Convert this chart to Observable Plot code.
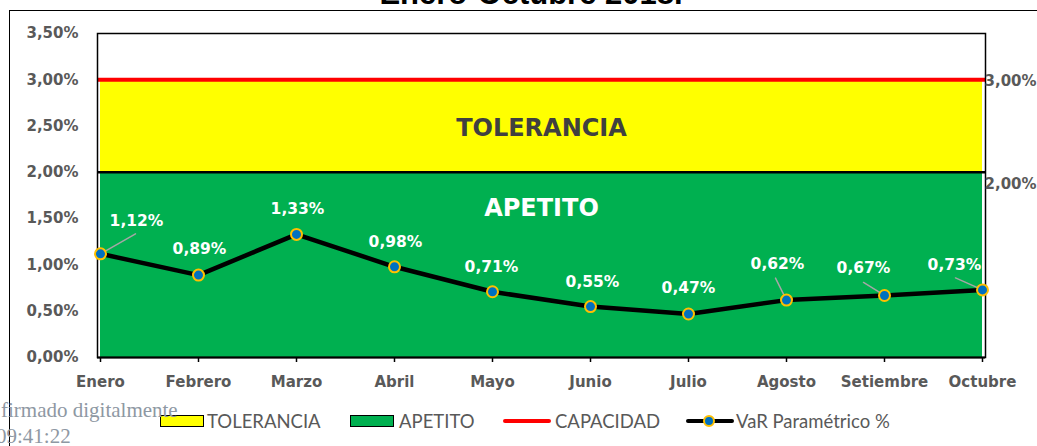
<!DOCTYPE html>
<html><head><meta charset="utf-8">
<script src="https://cdn.jsdelivr.net/npm/d3@7"></script>
<script src="https://cdn.jsdelivr.net/npm/@observablehq/plot@0.6"></script>
<style>
html,body{margin:0;padding:0;background:#fff;overflow:hidden;}
#wrap{position:relative;width:1037px;height:446px;overflow:hidden;background:#fff;}
#chart{position:absolute;left:0;top:0;}
#title{position:absolute;left:0;width:1062px;text-align:center;top:-22px;font:bold 31px "Liberation Sans",Arial,sans-serif;color:#000;white-space:nowrap;line-height:31px;height:31px;}
#border{position:absolute;left:9px;top:10px;right:-5px;bottom:-5px;border-top:1.5px solid #000;border-left:1.5px solid #000;pointer-events:none;}
.lg{position:absolute;top:410px;height:22px;line-height:22px;font:18.5px Lato,"Open Sans",sans-serif;color:#595959;white-space:nowrap;}
.sw{position:absolute;top:415px;width:42px;height:10px;border:1.5px solid #000;}
.ln{position:absolute;height:4px;border-radius:2px;}
.mk{position:absolute;width:8px;height:8px;border-radius:50%;background:#0070C0;border:2px solid #FFC000;}
#wm{position:absolute;left:1px;top:397px;font:21px "Liberation Serif","DejaVu Serif",serif;color:#8E98A3;line-height:26px;}
</style></head><body>
<div id="wrap">
<div id="chart"></div>
<div id="title"></div>
<div id="border"></div>
<div id="legend"></div>
<div id="wm">firmado digitalmente<br><span style="margin-left:-5px">09:41:22</span></div>
</div>
<script>
const titleText = "Enero-Octubre 2018.";
const months = ["Enero","Febrero","Marzo","Abril","Mayo","Junio","Julio","Agosto","Setiembre","Octubre"];
const varPct = [1.12,0.89,1.33,0.98,0.71,0.55,0.47,0.62,0.67,0.73];
const yTicks = [0,0.5,1,1.5,2,2.5,3,3.5];
const apetitoMax = 2;
const toleranciaMax = 3;
const capacidad = 3;
const rightLabels = [3, 2];
const bandLabels = ["TOLERANCIA","APETITO"];
const legendLabels = ["TOLERANCIA","APETITO","CAPACIDAD","VaR Paramétrico %"];

const C = {green:"#00B050", yellow:"#FFFF00", red:"#FF0000", blue:"#0070C0", gold:"#FFC000", grey:"#595959", leader:"#A6A6A6"};
const fmt = v => v.toFixed(2).replace(".", ",") + "%";
const data = months.map((m, i) => ({month: m, v: varPct[i]}));

// label placement (pixels) for the data labels and their leader lines
const labelNudge = [[36,-33],[1,-26],[1,-25],[1,-25],[-1,-25],[2,-25],[0,-26],[-9,-36],[-21,-27],[-28,-25]];
const leaderIdx = [0, 7, 8, 9];
const leaderVec = {0:[35,-20], 7:[-11,-22], 8:[-21,-13], 9:[-27,-12]};

document.getElementById("title").textContent = titleText;

const textStyle = {fill: "white", fontWeight: "bold", fontSize: 15.5};

const plot = Plot.plot({
  width: 1037, height: 446,
  marginLeft: 97, marginRight: 52, marginTop: 33, marginBottom: 89,
  style: {fontFamily: "'DejaVu Sans', Verdana, sans-serif", fontSize: "15px", background: "transparent", overflow: "visible"},
  x: {type: "point", domain: months, padding: 0, label: null},
  y: {domain: [0, 3.5], ticks: yTicks, label: null},
  length: {type: "identity"},
  marks: [
    Plot.areaY(data, {x: "month", y1: () => 0, y2: () => apetitoMax, fill: C.green}),
    Plot.areaY(data, {x: "month", y1: () => apetitoMax, y2: () => toleranciaMax, fill: C.yellow}),
    Plot.ruleY([apetitoMax], {stroke: "black", strokeWidth: 2.5}),
    Plot.ruleY([capacidad], {stroke: C.red, strokeWidth: 4}),
    Plot.frame({stroke: "black", strokeWidth: 1.5}),
    Plot.ruleY([0], {stroke: "black", strokeWidth: 2}),
    Plot.axisY({ticks: yTicks, tickSize: 0, tickPadding: 19, tickFormat: fmt, fill: C.grey, fontWeight: "bold", fontSize: 15}),
    Plot.axisX({tickSize: 5, tickFormat: () => "", stroke: "black", strokeWidth: 1.5}),
    Plot.axisX({tickSize: 0, tickPadding: 19, fill: C.grey, fontWeight: "bold", fontSize: 15}),
    Plot.text([bandLabels[0]], {y: () => (apetitoMax + toleranciaMax) / 2, dy: 2, text: d => d, fill: "#404040", fontWeight: "bold", fontSize: 24}),
    Plot.text([bandLabels[1]], {y: () => apetitoMax, dy: 36, text: d => d, fill: "white", fontWeight: "bold", fontSize: 24}),
    Plot.text([rightLabels[0]], {x: () => months[months.length - 1], y: d => d, text: fmt, textAnchor: "start", dx: 2, dy: 1, fill: C.grey, fontWeight: "bold", fontSize: 15}),
    Plot.text([rightLabels[1]], {x: () => months[months.length - 1], y: d => d, text: fmt, textAnchor: "start", dx: 2, dy: 12, fill: C.grey, fontWeight: "bold", fontSize: 15}),
    Plot.vector(leaderIdx, {
      x: i => months[i], y: i => varPct[i],
      length: i => Math.hypot(...leaderVec[i]),
      rotate: i => Math.atan2(leaderVec[i][0], -leaderVec[i][1]) * 180 / Math.PI,
      anchor: "start", shape: "spike", r: 0, stroke: C.leader, strokeWidth: 1.5, fill: "none"
    }),
    Plot.line(data, {x: "month", y: "v", stroke: "black", strokeWidth: 4.5}),
    Plot.dot(data, {x: "month", y: "v", r: 5.5, fill: C.blue, stroke: C.gold, strokeWidth: 2}),
    ...labelNudge.map(([dx, dy], i) => Plot.text([data[i]], {x: "month", y: "v", text: d => fmt(d.v), dx, dy, ...textStyle}))
  ]
});
document.getElementById("chart").appendChild(plot);

// legend
const lg = document.getElementById("legend");
const add = (cls, style, html) => { const e = document.createElement("div"); e.className = cls; Object.assign(e.style, style); if (html) e.textContent = html; lg.appendChild(e); };
add("sw", {left: "160px", background: C.yellow});
add("lg", {left: "207px"}, legendLabels[0]);
add("sw", {left: "350px", background: C.green});
add("lg", {left: "399px"}, legendLabels[1]);
add("ln", {left: "503px", top: "419px", width: "48px", background: C.red});
add("lg", {left: "555px"}, legendLabels[2]);
add("ln", {left: "686px", top: "419px", width: "48px", background: "#000"});
add("mk", {left: "703px", top: "415px"});
add("lg", {left: "736px"}, legendLabels[3]);
</script>
</body></html>
